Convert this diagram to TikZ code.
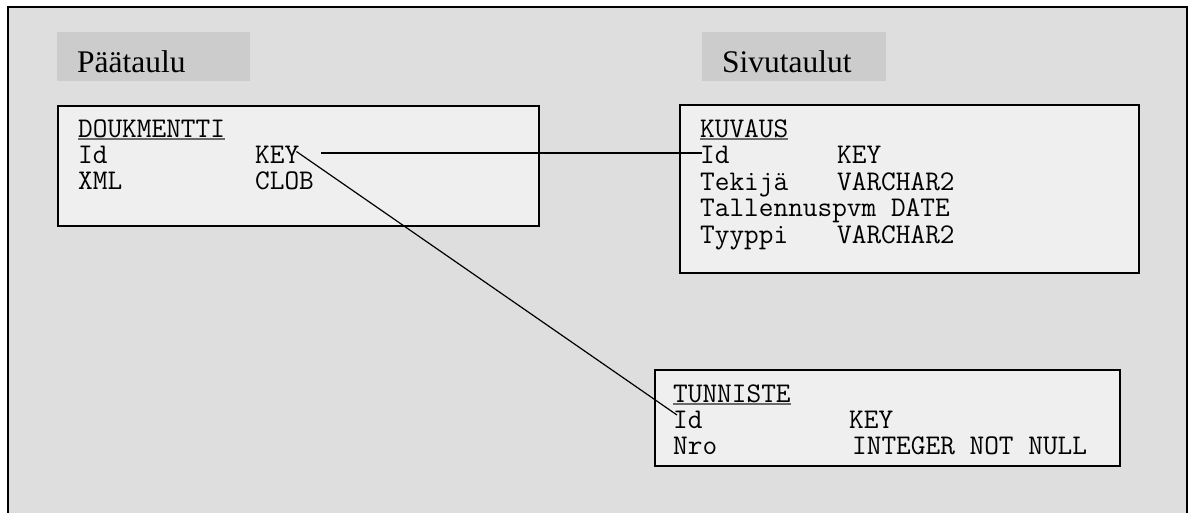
\documentclass[tikz,border=0pt]{standalone}
\usepackage{fontspec}
\setmainfont{Liberation Serif}
\usetikzlibrary{positioning}
\definecolor{framegray}{HTML}{DEDEDE}
\definecolor{labelgray}{HTML}{CCCCCC}
\definecolor{tablegray}{HTML}{EFEFEF}
\definecolor{ulgray}{HTML}{6A6A6A}
\tikzstyle{frame} = [draw, line width=1.6pt, fill=framegray]
\tikzstyle{label} = [fill=labelgray, anchor=north west, inner sep=0pt]
\tikzstyle{title} = [anchor=base west, inner sep=0pt, font=\fontsize{31.5}{36}\selectfont]
\tikzstyle{table} = [draw, line width=1.6pt, fill=tablegray, anchor=north west, inner sep=0pt]
\tikzstyle{field} = [anchor=base west, inner sep=0pt, font=\ttfamily\fontsize{28.5}{32}\selectfont]
\tikzstyle{uline} = [ulgray, line width=1.3pt]
\tikzstyle{link} = [line width=1.2pt]

\begin{document}
\begin{tikzpicture}[x=1pt, y=-1pt]
    \useasboundingbox (0,0) rectangle (1188,512);
    \draw [frame] (8,7) rectangle (1187,530);

    % Headings
    \node (mainlbl) [label, minimum width=193pt, minimum height=49pt] at (57,32) {};
    \node (mainttl) [title] at (77,72) {Päätaulu};
    \node (sidelbl) [label, minimum width=184pt, minimum height=49pt] at (702,32) {};
    \node (sidettl) [title] at (722,72) {Sivutaulut};

    % Tables
    \node (dokbox) [table, minimum width=481pt, minimum height=120pt] at (57,105) {};
    \node (kuvbox) [table, minimum width=459pt, minimum height=168pt] at (679,104) {};
    \node (tunbox) [table, minimum width=465pt, minimum height=96pt] at (654,369) {};

    % DOUKMENTTI
    \node (dokname) [field] at (78,137) {DOUKMENTTI};
    \node (dokid) [field] at (78,163.5) {Id};
    \node (dokkey) [field] at (255,163.5) {KEY};
    \node (dokxml) [field] at (78,189) {XML};
    \node (dokclob) [field] at (255,189) {CLOB};

    % KUVAUS
    \node (kuvname) [field] at (700,137) {KUVAUS};
    \node (kuvid) [field] at (700,163.5) {Id};
    \node (kuvkey) [field] at (837,163.5) {KEY};
    \node (kuvtek) [field] at (700,190) {Tekijä};
    \node (kuvtekt) [field] at (837,190) {VARCHAR2};
    \node (kuvtal) [field] at (700,216.5) {Tallennuspvm DATE};
    \node (kuvtyy) [field] at (700,243) {Tyyppi};
    \node (kuvtyyt) [field] at (837,243) {VARCHAR2};

    % TUNNISTE
    \node (tunname) [field] at (673,402) {TUNNISTE};
    \node (tunid) [field] at (673,428) {Id};
    \node (tunkey) [field] at (849,428) {KEY};
    \node (tunnro) [field] at (673,454) {Nro};
    \node (tunnrot) [field] at (852,454) {INTEGER NOT NULL};

    % Underlines
    \draw [uline] ([yshift=-2pt]dokname.base west) -- ([yshift=-2pt]dokname.base east);
    \draw [uline] ([yshift=-2pt]kuvname.base west) -- ([yshift=-2pt]kuvname.base east);
    \draw [uline] ([yshift=-2pt]tunname.base west) -- ([yshift=-2pt]tunname.base east);

    % Links
    \draw [link] ([xshift=22pt, yshift=10.5pt]dokkey.base east) -- ([xshift=2pt, yshift=10.5pt]kuvid.base west);
    \draw [link] ([xshift=-3pt, yshift=12pt]dokkey.base east) -- ([xshift=4pt, yshift=13pt]tunid.base west);

\end{tikzpicture}
\end{document}
